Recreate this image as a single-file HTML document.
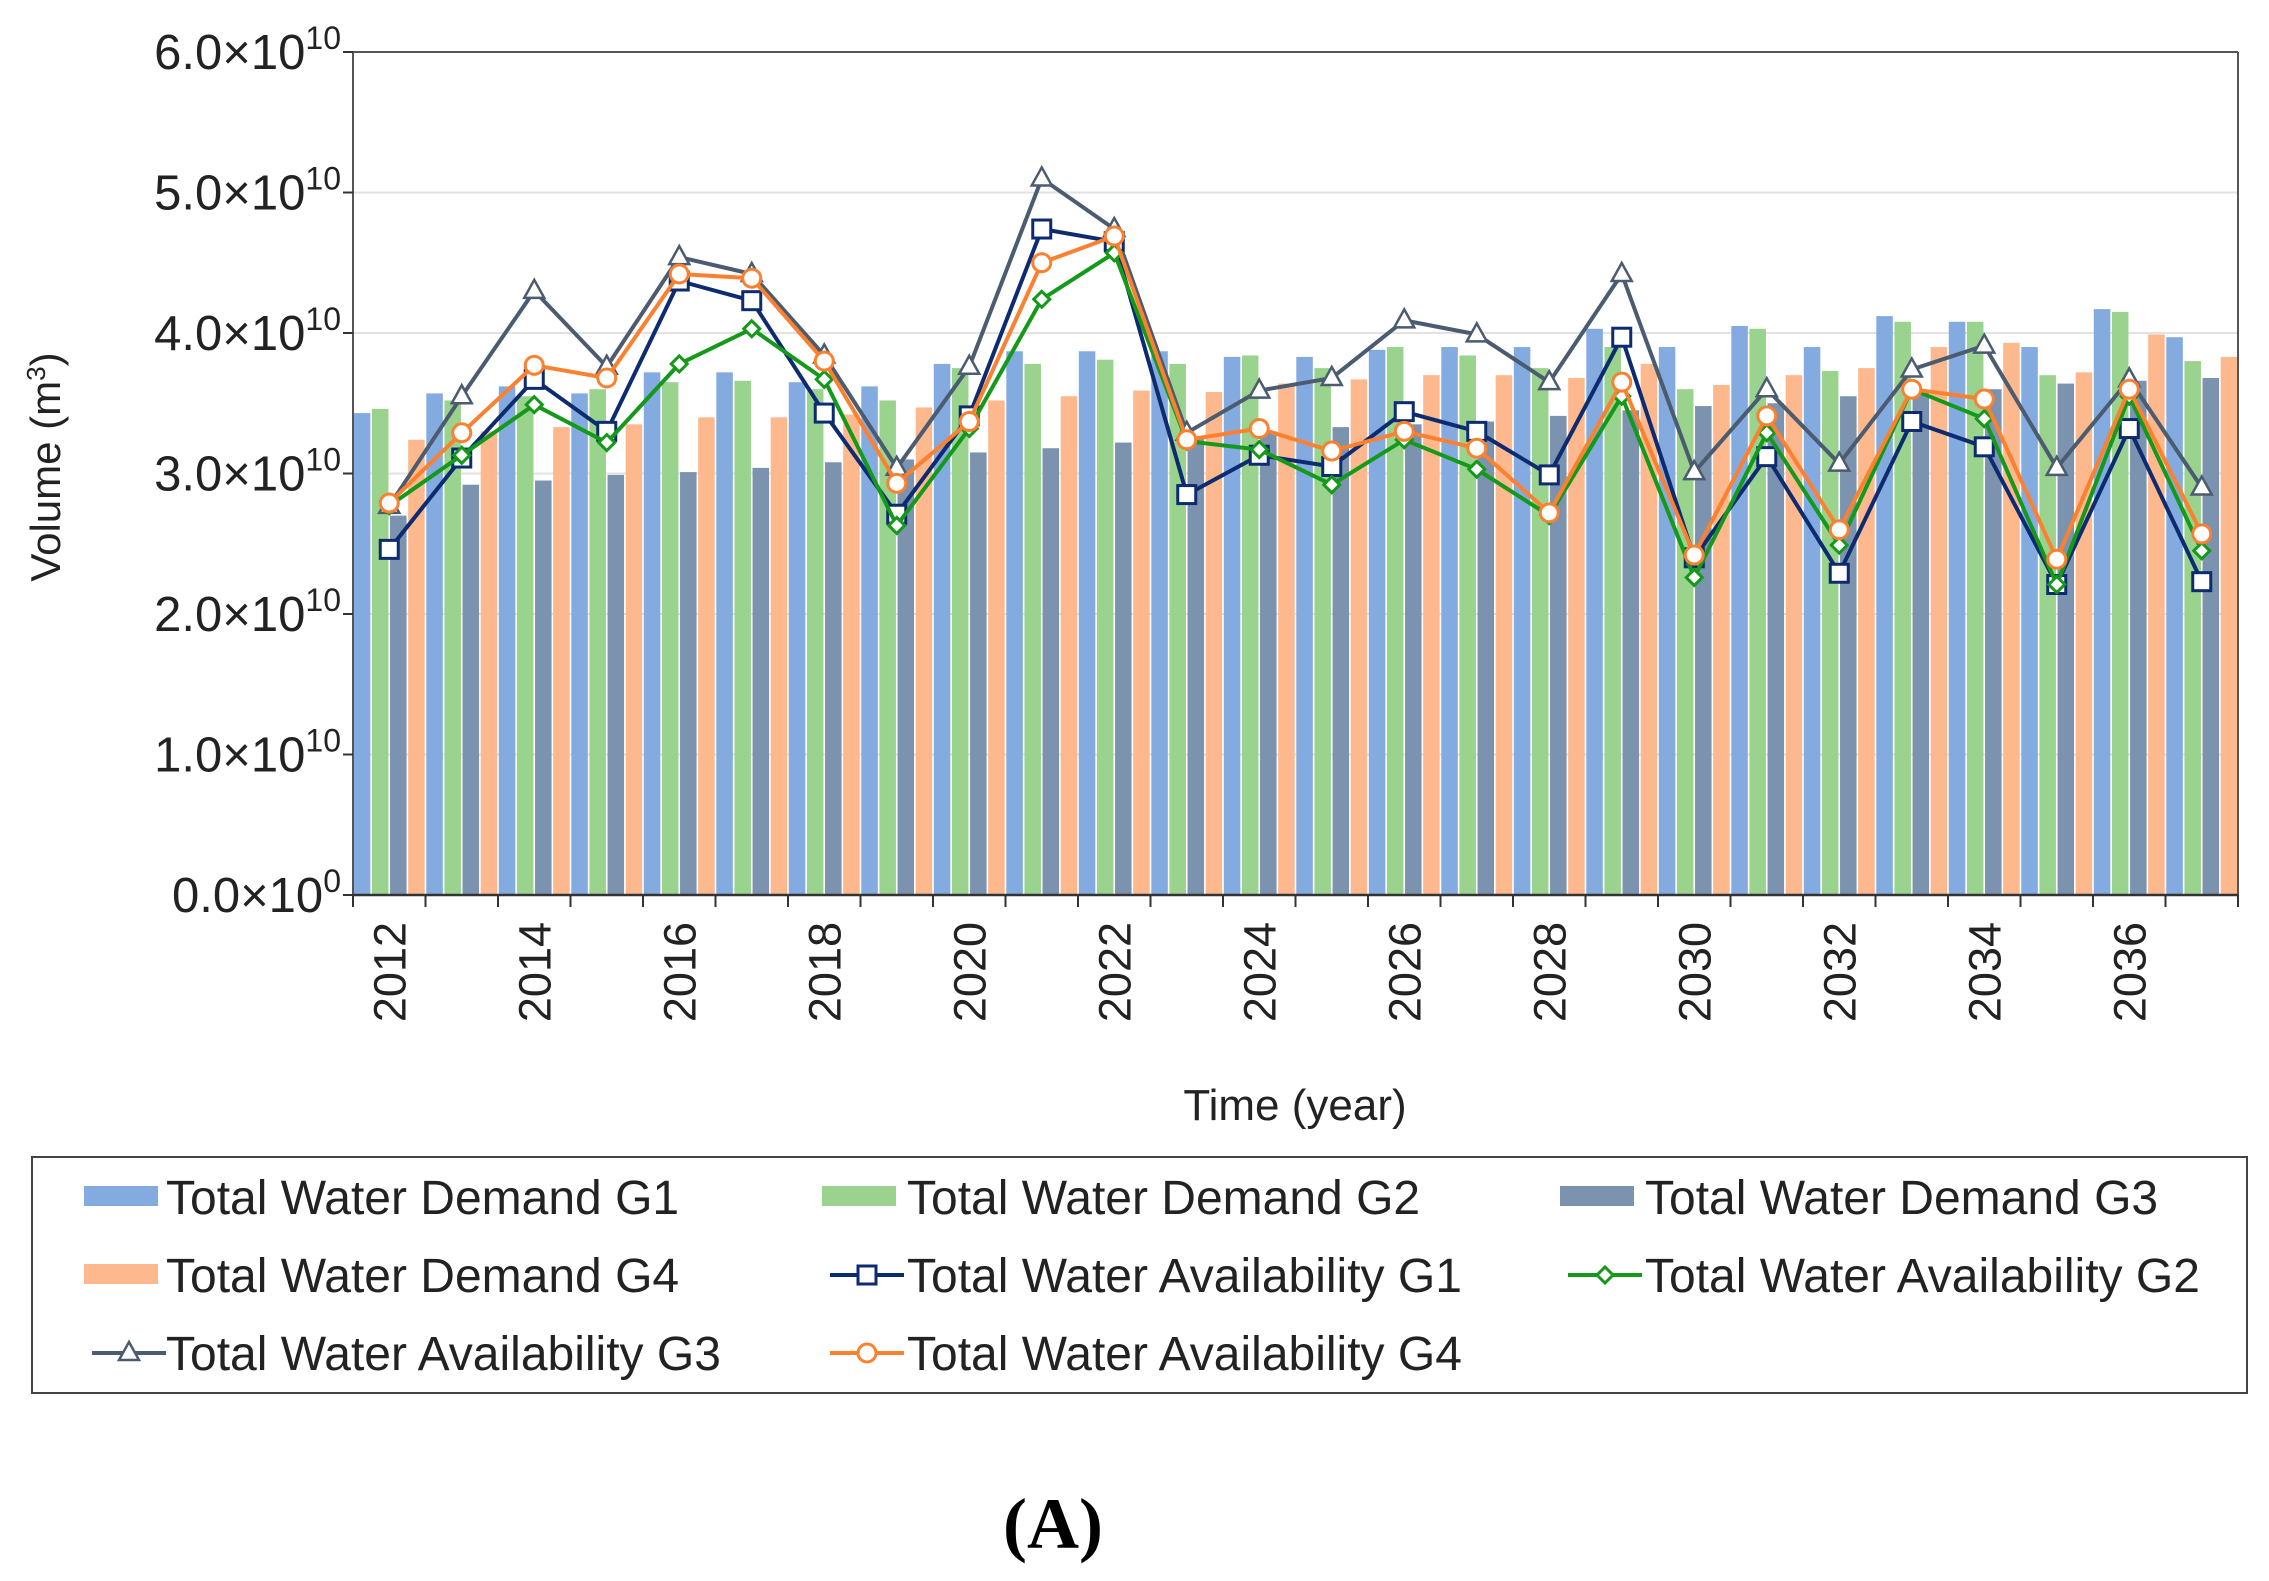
<!DOCTYPE html>
<html><head><meta charset="utf-8"><style>
html,body{margin:0;padding:0;background:#fff;}
svg{display:block;font-family:"Liberation Sans",sans-serif;}
</style></head><body>
<svg id="s" width="2269" height="1581" xmlns="http://www.w3.org/2000/svg">
<rect width="2269" height="1581" fill="#fff"/>
<g id="grid"></g>
<g id="bars"></g>
<g id="lines"></g>
<g id="axes"></g>
<text x="60" y="467" font-size="42" fill="#222" text-anchor="middle" transform="rotate(-90 60 467)">Volume (m<tspan font-size="26" dy="-15">3</tspan><tspan dy="15">)</tspan></text>
<text x="1295" y="1120" font-size="44" fill="#222" text-anchor="middle">Time (year)</text>
<rect x="32" y="1157" width="2215" height="236" fill="none" stroke="#444" stroke-width="2"/>
<g id="legend" font-size="48" fill="#222"></g>
<text x="1053" y="1548" font-size="72" font-weight="bold" text-anchor="middle" font-family="Liberation Serif,serif">(A)</text>
</svg>
<script>
const NS="http://www.w3.org/2000/svg";
function el(p,t,a,txt){const e=document.createElementNS(NS,t);for(const k in a)e.setAttribute(k,a[k]);if(txt!==undefined)e.textContent=txt;document.getElementById(p).appendChild(e);return e;}
const L=353,R=2238,Y0=895,U=140.5,N=26,W=(R-L)/N;
const yv=v=>Y0-v*U;
for(let i=1;i<=6;i++){el('grid','line',{x1:L,x2:R,y1:yv(i),y2:yv(i),stroke:'#e2e2e2','stroke-width':2});}
const G1=[3.43,3.57,3.62,3.57,3.72,3.72,3.65,3.62,3.78,3.87,3.87,3.87,3.83,3.83,3.88,3.9,3.9,4.03,3.9,4.05,3.9,4.12,4.08,3.9,4.17,3.97];
const G2=[3.46,3.52,3.55,3.6,3.65,3.66,3.6,3.52,3.75,3.78,3.81,3.78,3.84,3.75,3.9,3.84,3.75,3.9,3.6,4.03,3.73,4.08,4.08,3.7,4.15,3.8];
const G3=[2.7,2.92,2.95,2.99,3.01,3.04,3.08,3.1,3.15,3.18,3.22,3.26,3.3,3.33,3.35,3.37,3.41,3.45,3.48,3.5,3.55,3.58,3.6,3.64,3.66,3.68];
const G4=[3.24,3.3,3.33,3.35,3.4,3.4,3.42,3.47,3.52,3.55,3.59,3.58,3.64,3.67,3.7,3.7,3.68,3.78,3.63,3.7,3.75,3.9,3.93,3.72,3.99,3.83];
const bc=['#84abe0','#9ad38e','#7b93ae','#fdb88d'];
[G1,G2,G3,G4].forEach((d,k)=>d.forEach((v,i)=>{const x=L+i*W+k*W/4+0.8;el('bars','rect',{x:x,y:yv(v),width:W/4-1.6,height:v*U,fill:bc[k]});}));
const A1=[2.46,3.11,3.67,3.30,4.37,4.23,3.43,2.71,3.41,4.74,4.65,2.85,3.13,3.05,3.44,3.30,2.99,3.97,2.40,3.12,2.29,3.37,3.19,2.21,3.32,2.23];
const A2=[2.77,3.13,3.49,3.22,3.78,4.03,3.67,2.63,3.32,4.24,4.57,3.23,3.17,2.92,3.24,3.03,2.70,3.55,2.26,3.29,2.49,3.6,3.39,2.21,3.55,2.45];
const A3=[2.77,3.55,4.3,3.76,4.54,4.42,3.84,3.04,3.76,5.1,4.74,3.29,3.59,3.68,4.09,3.99,3.65,4.42,3.01,3.6,3.07,3.74,3.91,3.04,3.67,2.9];
const A4=[2.79,3.29,3.77,3.68,4.42,4.39,3.80,2.93,3.37,4.5,4.69,3.24,3.32,3.16,3.30,3.18,2.72,3.65,2.42,3.41,2.6,3.6,3.53,2.39,3.6,2.57];
function marker(g,type,x,y,c){
 if(type==='sq')el(g,'rect',{x:x-9,y:y-9,width:18,height:18,fill:'#fff',stroke:c,'stroke-width':3});
 else if(type==='di')el(g,'path',{d:`M${x} ${y-8}L${x+8} ${y}L${x} ${y+8}L${x-8} ${y}Z`,fill:'#fff',stroke:c,'stroke-width':3});
 else if(type==='tr')el(g,'path',{d:`M${x} ${y-11}L${x+10} ${y+7}L${x-10} ${y+7}Z`,fill:'#fff',stroke:c,'stroke-width':2.5});
 else el(g,'circle',{cx:x,cy:y,r:9,fill:'#fff',stroke:c,'stroke-width':3});
}
const S=[[A3,'#4b5b70','tr'],[A1,'#0d2b70','sq'],[A2,'#14991a','di'],[A4,'#fb8130','ci']];
S.forEach(([d,c,t])=>{const pts=d.map((v,i)=>(L+(i+0.5)*W).toFixed(1)+','+yv(v).toFixed(1)).join(' ');
 el('lines','polyline',{points:pts,fill:'none',stroke:c,'stroke-width':4,'stroke-linejoin':'round'});
 d.forEach((v,i)=>marker('lines',t,L+(i+0.5)*W,yv(v),c));});
el('axes','line',{x1:L,x2:L,y1:52,y2:Y0,stroke:'#555','stroke-width':2});
el('axes','line',{x1:L,x2:R,y1:52,y2:52,stroke:'#555','stroke-width':2});
el('axes','line',{x1:R,x2:R,y1:52,y2:Y0,stroke:'#555','stroke-width':2});
el('axes','line',{x1:L,x2:R,y1:Y0,y2:Y0,stroke:'#333','stroke-width':2.5});
for(let i=0;i<=6;i++){const y=yv(i);el('axes','line',{x1:L-10,x2:L,y1:y,y2:y,stroke:'#333','stroke-width':2});
 const t=el('axes','text',{x:341,y:y+17,'font-size':49,'text-anchor':'end',fill:'#222'});
 t.innerHTML=i===0?'0.0×10<tspan font-size="32" dy="-20">0</tspan>':i+'.0×10<tspan font-size="32" dy="-20">10</tspan>';}
for(let i=0;i<=N;i++){const x=L+i*W;el('axes','line',{x1:x,x2:x,y1:Y0,y2:Y0+12,stroke:'#333','stroke-width':2});}
for(let i=0;i<N;i+=2){const x=L+(i+0.5)*W+16,y=922;el('axes','text',{x:x,y:y,'font-size':45,'text-anchor':'end',fill:'#222',transform:`rotate(-90 ${x} ${y})`},String(2012+i));}
const rows=[1214,1292,1370],cols=[84,822,1560],tx=[166,907,1645];
const items=[['bar',bc[0],'Total Water Demand G1'],['bar',bc[1],'Total Water Demand G2'],['bar',bc[2],'Total Water Demand G3'],['bar',bc[3],'Total Water Demand G4'],['sq','#0d2b70','Total Water Availability G1'],['di','#14991a','Total Water Availability G2'],['tr','#4b5b70','Total Water Availability G3'],['ci','#fb8130','Total Water Availability G4']];
items.forEach((it,j)=>{const r=Math.floor(j/3),c=j%3,y=rows[r],x=cols[c];
 if(it[0]==='bar')el('legend','rect',{x:x,y:y-28,width:74,height:20,fill:it[1]});
 else{el('legend','line',{x1:x+8,x2:x+82,y1:y-17,y2:y-17,stroke:it[1],'stroke-width':4});marker('legend',it[0],x+45,y-17,it[1]);}
 el('legend','text',{x:tx[c],y:y,fill:'#222'},it[2]);});
</script>
</body></html>
